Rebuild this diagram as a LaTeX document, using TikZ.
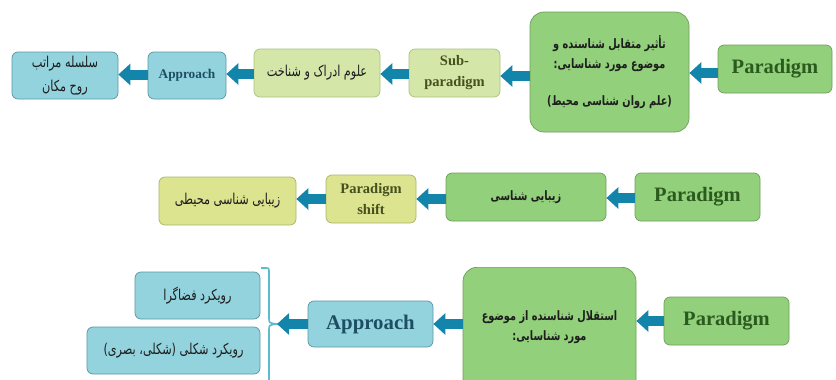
\documentclass[tikz,border=0pt]{standalone}
\usepackage{fontspec}
\setmainfont{Liberation Serif}
\newfontfamily\fa[Script=Arabic, FakeStretch=0.75]{DejaVu Sans}
\TeXXeTstate=1
\usetikzlibrary{arrows.meta}

\definecolor{grfill}{HTML}{92D07C}
\definecolor{grdraw}{HTML}{6E9E58}
\definecolor{lgfill}{HTML}{D5E7A8}
\definecolor{lgdraw}{HTML}{A9C07F}
\definecolor{ylfill}{HTML}{DCE48F}
\definecolor{yldraw}{HTML}{A9B46A}
\definecolor{blfill}{HTML}{93D3DE}
\definecolor{bldraw}{HTML}{5A95A3}
\definecolor{arrowblue}{HTML}{1385AA}
\definecolor{bracecol}{HTML}{5BBCCB}
\definecolor{pgtext}{HTML}{2B5A1E}
\definecolor{aptext}{HTML}{1D4E63}
\definecolor{oltext}{HTML}{464F1E}
\definecolor{fatext}{HTML}{1E1E1E}

\tikzset{
  box/.style={draw, line width=0.7pt, rounded corners=6pt, inner sep=0pt, align=center},
  greenbox/.style={box, fill=grfill, draw=grdraw},
  bigbox/.style={greenbox, rounded corners=14pt},
  lightbox/.style={box, fill=lgfill, draw=lgdraw},
  yellowbox/.style={box, fill=ylfill, draw=yldraw},
  bluebox/.style={box, fill=blfill, draw=bldraw},
  paratext/.style={font=\fontsize{20.5}{24}\selectfont\bfseries, text=pgtext},
  faplain/.style={font=\fa\fontsize{15}{24}\selectfont, text=fatext},
  fabold/.style={font=\fa\bfseries\fontsize{13}{20.5}\selectfont, text=fatext},
  barrow/.style={draw=arrowblue, line width=10pt,
    -{Triangle[width=21pt,length=12pt,fill=arrowblue]}},
  bracket/.style={draw=bracecol, line width=1.6pt}
}

\begin{document}
\begin{tikzpicture}[x=1pt,y=-1pt]
\useasboundingbox (0,0) rectangle (836,380);
\clip (0,0) rectangle (836,380);

% first chain
\node[greenbox, paratext, minimum width=114pt, minimum height=48pt] (p1) at (775,69) {Paradigm};
\node[bigbox, fabold, minimum width=159pt, minimum height=120pt] (b1) at (609.5,72)
  {\beginR تأثیر متقابل شناسنده و\endR\\\beginR موضوع مورد شناسایی:\endR\\[16pt]\beginR (علم روان شناسی محیط)\endR};
\node[lightbox, font=\fontsize{14.5}{21}\selectfont\bfseries, text=oltext, minimum width=91pt, minimum height=48pt] (s1) at (454.5,73) {Sub-\\paradigm};
\node[lightbox, faplain, minimum width=126pt, minimum height=48pt] (c1) at (317,73) {\beginR علوم ادراک و شناخت\endR};
\node[bluebox, font=\fontsize{13.3}{16}\selectfont\bfseries, text=aptext, minimum width=78pt, minimum height=47pt] (a1) at (187,75.5) {Approach};
\node[bluebox, faplain, minimum width=106pt, minimum height=47pt] (h1) at (65,75.5) {\beginR سلسله مراتب\endR\\\beginR روح مکان\endR};

\draw[barrow] (p1.west |- 0,73) -- (b1.east |- 0,73);
\draw[barrow] (b1.west |- 0,76) -- (s1.east |- 0,76);
\draw[barrow] (s1.west |- 0,74) -- (c1.east |- 0,74);
\draw[barrow] (c1.west |- 0,74) -- (a1.east |- 0,74);
\draw[barrow] (a1.west |- 0,74.5) -- (h1.east |- 0,74.5);

% second chain
\node[greenbox, paratext, minimum width=125pt, minimum height=48pt] (p2) at (697.5,197) {Paradigm};
\node[greenbox, fabold, minimum width=160pt, minimum height=48pt] (b2) at (526,197) {\beginR زیبایی شناسی\endR};
\node[yellowbox, font=\fontsize{14.5}{21}\selectfont\bfseries, text=oltext, minimum width=90pt, minimum height=48pt] (s2) at (371,199) {Paradigm\\shift};
\node[yellowbox, faplain, minimum width=137pt, minimum height=48pt] (e2) at (227.5,201) {\beginR زیبایی شناسی محیطی\endR};

\draw[barrow] (p2.west |- 0,198) -- (b2.east |- 0,198);
\draw[barrow] (b2.west |- 0,199) -- (s2.east |- 0,199);
\draw[barrow] (s2.west |- 0,199) -- (e2.east |- 0,199);

% third chain
\node[greenbox, paratext, minimum width=125pt, minimum height=48pt] (p3) at (726.5,321) {Paradigm};
\node[bigbox, minimum width=173pt, minimum height=150pt, anchor=north] (b3) at (549.5,267) {};
\node[fabold, align=center] (t3) at (549.5,327) {\beginR استقلال شناسنده از موضوع\endR\\\beginR مورد شناسایی:\endR};
\node[bluebox, font=\fontsize{20.8}{24}\selectfont\bfseries, text=aptext, minimum width=125pt, minimum height=46pt] (a3) at (370.5,324) {Approach};
\node[bluebox, faplain, minimum width=125pt, minimum height=47pt] (r1) at (197.5,295.5) {\beginR رویکرد فضاگرا\endR};
\node[bluebox, faplain, minimum width=173pt, minimum height=47pt] (r2) at (173.5,350.5) {\beginR رویکرد شکلی (شکلی، بصری)\endR};

% brace grouping the two approaches
\coordinate (bt) at (261,268);
\coordinate (bm) at (277,324);
\coordinate (bb) at (261,388);
\draw[bracket] (bt) -- (265,268) .. controls (269,268) .. (269,272)
  -- (269,318) .. controls (269,323) .. (bm)
  .. controls (269,325) .. (269,330) -- (bb -| 269,0);

\draw[barrow] (p3.west |- 0,321) -- (b3.east |- 0,321);
\draw[barrow] (b3.west |- 0,324) -- (a3.east |- 0,324);
\draw[barrow] (a3.west |- 0,324) -- (bm);
\end{tikzpicture}
\end{document}
